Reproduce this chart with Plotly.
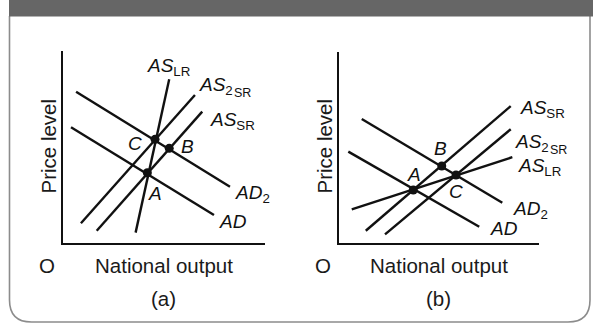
import plotly.graph_objects as go

W, H = 593, 327

# ---------------- data (axis units 0-100 in each panel) ----------------
# Panel (a)
a_AD2_x = [6.7, 82.7];   a_AD2_y = [78.8, 29.3]
a_AD_x = [4.2, 74.8];    a_AD_y = [60.3, 14.6]
a_ASLR_x = [36.1, 52.7]; a_ASLR_y = [5.4, 85.3]
a_AS2SR_x = [9.1, 65.4]; a_AS2SR_y = [10.3, 77.1]
a_ASSR_x = [16.9, 69.0]; a_ASSR_y = [6.4, 68.4]
a_pts_x = [41.9, 52.7, 45.7]   # A, B, C
a_pts_y = [36.6, 49.3, 54.0]

# Panel (b)
b_AD2_x = [11.6, 81.7];  b_AD2_y = [64.8, 21.0]
b_AD_x = [4.9, 70.2];    b_AD_y = [47.7, 8.5]
b_ASSR_x = [13.6, 85.9]; b_ASSR_y = [6.4, 71.5]
b_AS2SR_x = [23.2, 85.9]; b_AS2SR_y = [4.5, 59.4]
b_ASLR_x = [6.6, 86.7];  b_ASLR_y = [17.6, 44.8]
b_pts_x = [37.3, 51.5, 58.6]   # A, B, C
b_pts_y = [27.7, 40.2, 35.5]

AS2 = "<i>AS</i><sub>2</sub>"

# curve labels: (text, x, y)
a_labels = [
    ("<i>AS</i><sub>LR</sub>", 40.7, 91.5),
    (AS2, 66.3, 82.0),
    ("<i>AS</i><sub>SR</sub>", 71.9, 63.5),
    ("<i>AD</i><sub>2</sub>", 84.3, 25.5),
    ("<i>AD</i>", 76.1, 11.1),
]
a_points = [("<i>C</i>", 35.8, 51.9), ("<i>B</i>", 61.5, 50.2), ("<i>A</i>", 45.7, 25.9)]
b_labels = [
    ("<i>AS</i><sub>SR</sub>", 89.7, 70.0),
    (AS2, 87.2, 52.3),
    ("<i>AS</i><sub>LR</sub>", 88.5, 39.5),
    ("<i>AD</i><sub>2</sub>", 85.9, 17.1),
    ("<i>AD</i>", 74.7, 7.8),
]
b_points = [("<i>B</i>", 51.0, 49.5), ("<i>A</i>", 37.7, 36.0), ("<i>C</i>", 58.4, 26.8)]

FONT = "Liberation Sans, Arial, sans-serif"
INK = "#111111"

def px(x):
    return x / W

def py(y):
    return 1 - y / H

fig = go.Figure()

def add_line(xs, ys, xa, ya):
    fig.add_trace(go.Scatter(x=xs, y=ys, mode="lines", xaxis=xa, yaxis=ya,
                             line=dict(color=INK, width=2.4), hoverinfo="skip",
                             showlegend=False))

for xs, ys in [(a_AD2_x, a_AD2_y), (a_AD_x, a_AD_y), (a_ASLR_x, a_ASLR_y),
               (a_AS2SR_x, a_AS2SR_y), (a_ASSR_x, a_ASSR_y)]:
    add_line(xs, ys, "x", "y")
for xs, ys in [(b_AD2_x, b_AD2_y), (b_AD_x, b_AD_y), (b_ASSR_x, b_ASSR_y),
               (b_AS2SR_x, b_AS2SR_y), (b_ASLR_x, b_ASLR_y)]:
    add_line(xs, ys, "x2", "y2")

fig.add_trace(go.Scatter(x=a_pts_x, y=a_pts_y, mode="markers", xaxis="x", yaxis="y",
                         marker=dict(color=INK, size=9), showlegend=False, hoverinfo="skip"))
fig.add_trace(go.Scatter(x=b_pts_x, y=b_pts_y, mode="markers", xaxis="x2", yaxis="y2",
                         marker=dict(color=INK, size=9), showlegend=False, hoverinfo="skip"))

ax_common = dict(range=[0, 100], showgrid=False, zeroline=False, showticklabels=False,
                 ticks="", showline=True, linecolor=INK, linewidth=1.6, fixedrange=True)

# panel pixel extents
a_x0, a_x1, a_ytop, a_ybot = 62.5, 265.0, 51.0, 243.0
b_x0, b_x1, b_ytop, b_ybot = 338.5, 539.0, 51.5, 243.0

fig.update_layout(
    width=W, height=H,
    margin=dict(l=0, r=0, t=0, b=0),
    paper_bgcolor="white", plot_bgcolor="rgba(0,0,0,0)",
    xaxis=dict(domain=[px(a_x0), px(a_x1)], anchor="y", **ax_common),
    yaxis=dict(domain=[py(a_ybot), py(a_ytop)], anchor="x", **ax_common),
    xaxis2=dict(domain=[px(b_x0), px(b_x1)], anchor="y2", **ax_common),
    yaxis2=dict(domain=[py(b_ybot), py(b_ytop)], anchor="x2", **ax_common),
    font=dict(family=FONT, color=INK),
)

annotations = []
for (txt, x, y), ref in [(t, "a") for t in a_labels + a_points] + [(t, "b") for t in b_labels + b_points]:
    xr, yr = ("x", "y") if ref == "a" else ("x2", "y2")
    is_curve = ("AD" in txt or "AS" in txt)
    annotations.append(dict(text=txt, x=x, y=y, xref=xr, yref=yr, showarrow=False,
                            xanchor="left" if is_curve else "center",
                            yanchor="middle", font=dict(size=19, family=FONT, color=INK)))

# second-level subscript "SR" of AS2SR (pixel positions -> paper)
for x, y in [(231.5, 93.0), (548.0, 150.0)]:
    annotations.append(dict(text="SR", x=px(x), y=py(y), xref="paper", yref="paper",
                            showarrow=False, xanchor="left", yanchor="middle",
                            font=dict(size=12.5, family=FONT, color=INK)))

# axis titles and captions (pixel positions -> paper)
static_text = [
    ("Price level", 47.5, 146, -90),
    ("Price level", 323.5, 146, -90),
    ("O", 47, 265, 0),
    ("National output", 163.5, 265, 0),
    ("O", 322.5, 265, 0),
    ("National output", 438.5, 265, 0),
    ("(a)", 163.5, 298, 0),
    ("(b)", 438.5, 298, 0),
]
for txt, x, y, ang in static_text:
    annotations.append(dict(text=txt, x=px(x), y=py(y), xref="paper", yref="paper",
                            showarrow=False, xanchor="center", yanchor="middle",
                            textangle=ang, font=dict(size=20.5, family=FONT, color="#1a1a1a")))
fig.update_layout(annotations=annotations)

# frame: header bar and rounded border
def P(x, y):
    return f"{px(x):.5f},{py(y):.5f}"

r = 22
L, R, B = 9.5, 590.0, 322.0
path = (f"M {P(L, 16)} L {P(L, B - r)} Q {P(L, B)} {P(L + r, B)} "
        f"L {P(R - r, B)} Q {P(R, B)} {P(R, B - r)} L {P(R, 16)}")
fig.update_layout(shapes=[
    dict(type="path", path=path, xref="paper", yref="paper",
         line=dict(color="#8c8c8c", width=1.6), layer="below"),
    dict(type="rect", x0=px(9), x1=1, y0=py(16.5), y1=1, xref="paper", yref="paper",
         fillcolor="#666666", line=dict(width=0), layer="below"),
])

fig.write_html("out.html", config={"displayModeBar": False},
               post_script="document.body.style.margin='0';")
